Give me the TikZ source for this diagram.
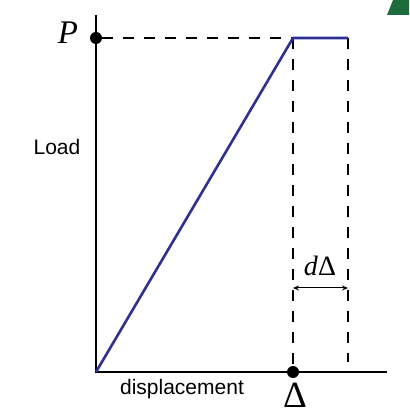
\documentclass[tikz,border=0pt]{standalone}
\usepackage{fontspec}
\newfontfamily\labelfont{Liberation Sans}
\newfontfamily\symfont{Liberation Serif}
\usetikzlibrary{arrows.meta}
\definecolor{curveblue}{HTML}{2E3192}
\definecolor{cornergreen}{HTML}{1E6B3C}

\begin{document}
\begin{tikzpicture}[x=1pt, y=1pt,
  axis/.style={line width=1.3pt},
  curve/.style={draw=curveblue, line width=2.6pt, line join=round},
  guide/.style={line width=1.3pt, dash pattern=on 11pt off 10pt},
  dot/.style={circle, fill=black, inner sep=0pt, minimum size=12pt},
  sym/.style={font=\symfont\fontsize{33}{33}\selectfont, inner sep=0pt},
  axlabel/.style={font=\labelfont\fontsize{21}{21}\selectfont, inner sep=0pt},
]
\useasboundingbox (0,0) rectangle (409,414);
% corner mark
\fill[cornergreen] (387,399) -- (393,414) -- (409,414) -- (409,399) -- cycle;

% axes
\coordinate (origin) at (96,42);
\coordinate (ytop) at (96,399);
\coordinate (xend) at (387,42);
\draw[axis] (ytop) -- (origin) -- (xend);

% points on the curve
\node[dot] (Pdot) at (96,376) {};
\node[dot] (Ddot) at (293,42) {};
\coordinate (yield) at (293,376);
\coordinate (plat) at (348,376);
\coordinate (platfoot) at (348,52);

% guide lines
\draw[guide] (Pdot) -- (yield);
\draw[guide] (yield) -- (Ddot);
\draw[guide] (plat) -- (platfoot);

% load-displacement curve
\draw[curve] (origin) -- (yield) -- (plat);

% increment
\coordinate (dl) at (293,126);
\coordinate (dr) at (348,126);
\draw[line width=1pt, {Stealth[length=6pt,width=5pt]}-{Stealth[length=6pt,width=5pt]}] (dl) -- (dr);
\node[sym, font=\symfont\fontsize{28}{28}\selectfont] (dD) at (320,148) {\textit{d}Δ};

% labels
\node[sym] (Plab) at (68,381) {\textit{P}};
\node[sym, font=\symfont\fontsize{37}{37}\selectfont] (Dlab) at (295,19) {Δ};
\node[axlabel] (load) at (57,267) {Load};
\node[axlabel] (disp) at (182,25) {displacement};
\end{tikzpicture}
\end{document}
